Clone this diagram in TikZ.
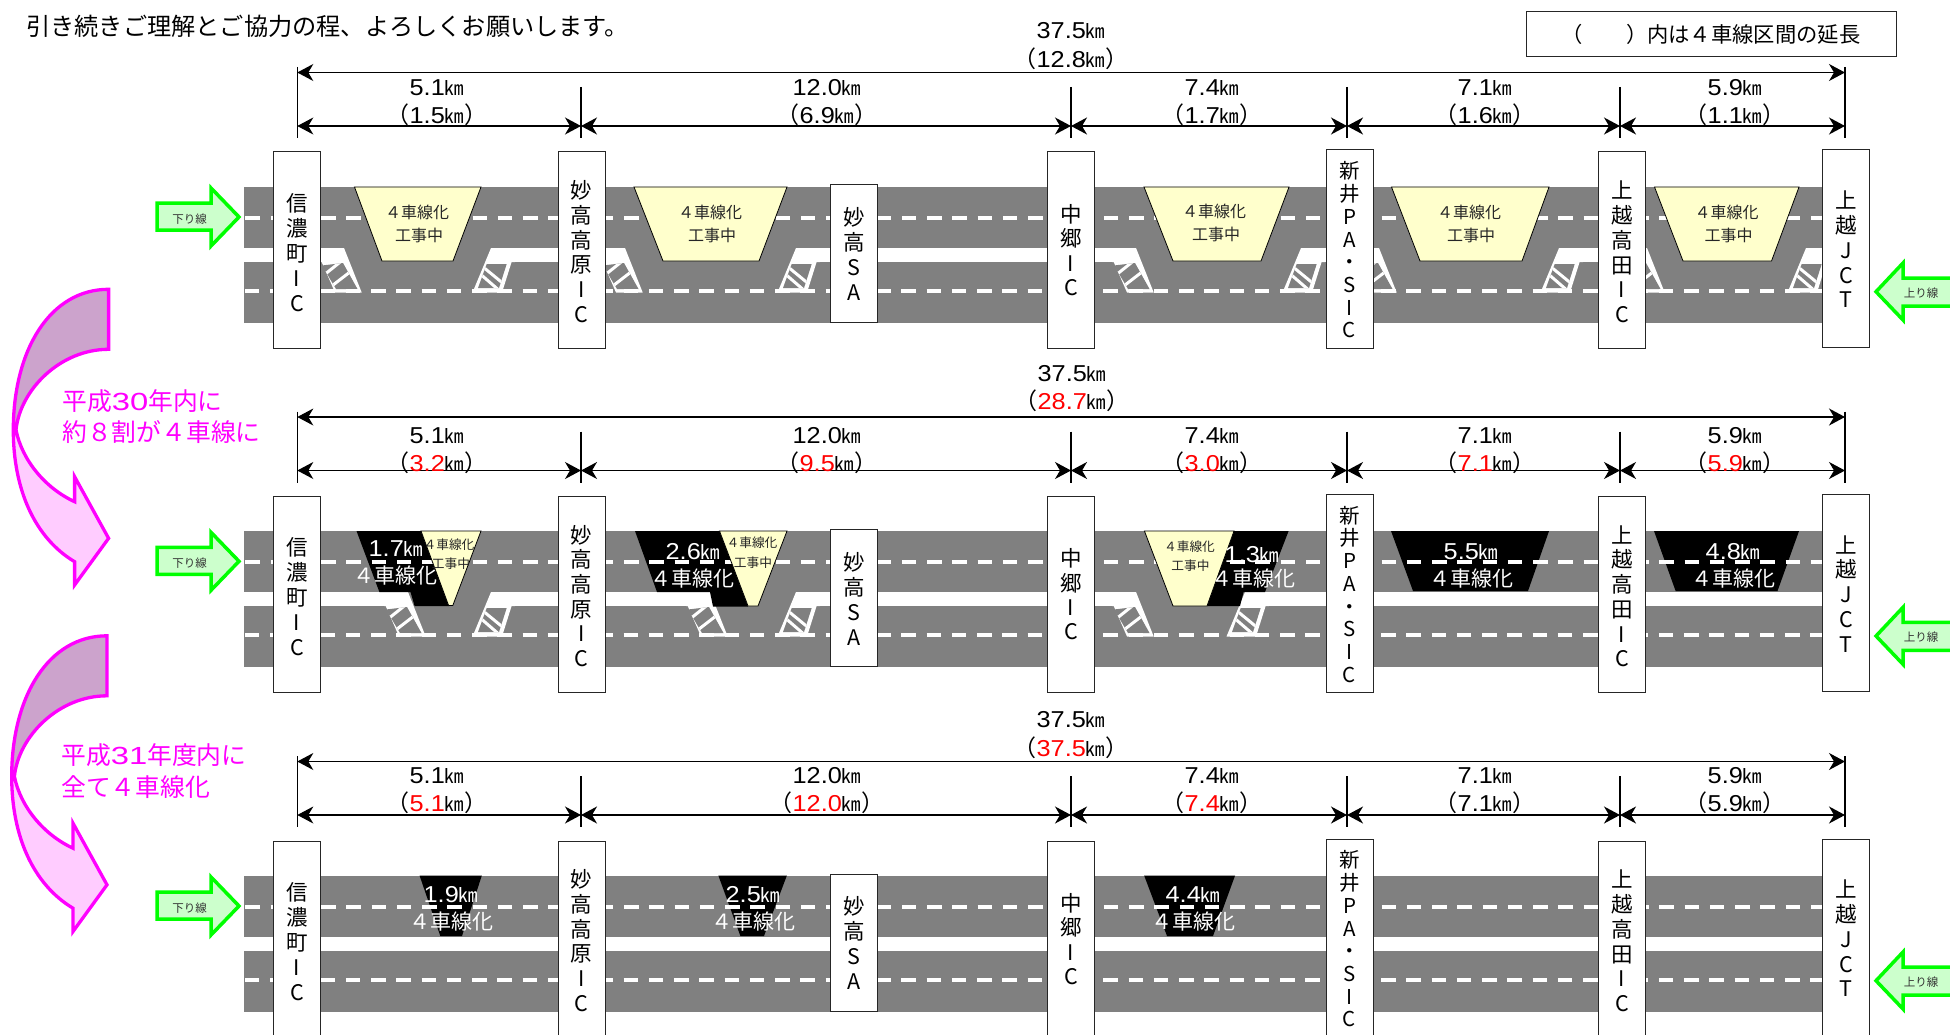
\documentclass[tikz,border=0pt]{standalone}
\usepackage{fontspec}
\setmainfont{Noto Sans CJK JP}
\newfontfamily\digf[FakeStretch=1.1]{Liberation Sans}
\usetikzlibrary{arrows.meta}
\definecolor{roadgray}{HTML}{808080}
\definecolor{trapyellow}{HTML}{FFFFCC}
\definecolor{dirfill}{HTML}{CCFFCC}
\definecolor{dirline}{HTML}{00FF00}
\definecolor{pinkline}{HTML}{FF00FF}
\definecolor{pinkdark}{HTML}{CCA3CC}
\definecolor{pinklight}{HTML}{FFCCFF}
\definecolor{smallink}{HTML}{333333}
\newcommand{\fsz}[1]{\fontsize{#1}{#1}\selectfont}
\newcommand{\kmu}{{\fsz{19.5}㎞}}
\newcommand{\kmv}[1]{{\digf #1}\kmu}
\newcommand{\kmr}[1]{\textcolor{red}{\digf #1}\kmu}
\tikzset{
  road/.style={fill=roadgray,draw=none},
  lanedash/.style={draw=white,line width=3.8pt,dash pattern=on 14.5pt off 10.75pt},
  stopbox/.style={draw=black!85,line width=1pt,fill=white,inner sep=0pt,minimum width=47pt},
  stack/.style={inner sep=0pt,align=center,font=\fontsize{21.5}{25}\selectfont},
  trapy/.style={fill=trapyellow,draw=black,line width=0.8pt,line join=miter},
  trapb/.style={fill=black,draw=none},
  dimtick/.style={draw=black,line width=1.1pt},
  dimarrow/.style={draw=black,line width=1.3pt,{Stealth[length=16pt,width=17pt,inset=5pt]}-{Stealth[length=16pt,width=17pt,inset=5pt]}},
  dimtext/.style={inner sep=0pt,font=\fsz{23}},
  dirarrow/.style={fill=dirfill,draw=dirline,line width=3.5pt,line join=miter},
  dirtext/.style={inner sep=0pt,text=smallink,font=\fsz{11.5}},
  ylab/.style={inner sep=0pt,text=black!85,font=\fsz{16}},
  ylabs/.style={inner sep=0pt,text=black!85,font=\fsz{12.7}},
  wlab/.style={inner sep=0pt,text=white,font=\fsz{21}},
  wkm/.style={inner sep=0pt,text=white,font=\fsz{23}},
  pinktext/.style={inner sep=0pt,anchor=west,text=pinkline,font=\fsz{24.8}},
  curvedline/.style={draw=pinkline,line width=3.3pt,line join=miter},
}
\newcommand{\roads}[1]{\begin{scope}[shift={(0,#1)}]
  \fill[road] (244,187) rectangle (1850,248);
  \fill[road] (244,262) rectangle (1850,323);
\end{scope}}
\newcommand{\lanes}[1]{\begin{scope}[shift={(0,#1)}]
  \draw[lanedash] (245.3,218) -- (1830,218);
  \draw[lanedash] (244.8,291) -- (1830,291);
\end{scope}}
\newcommand{\bypass}[3]{\fill[road] (#2,{#1+247}) rectangle (#3,{#1+263});}
\newcommand{\hatchL}[2]{\begin{scope}[shift={(#2,#1)}]
  \fill[white] (-24,248) -- (0,248) -- (17.7,292.5) -- (-9,292.5) -- (-22.3,262) -- (-24,262) -- cycle;
  \begin{scope}
    \clip (-22,265.5) -- (-1,263) -- (13.5,289) -- (-8,289) -- cycle;
    \fill[roadgray] (-25,260) rectangle (15,290);
    \draw[white,line width=3pt] (-25,279) -- (5,255);
    \draw[white,line width=3pt] (-20,292) -- (15,265);
  \end{scope}
\end{scope}}
\newcommand{\hatchR}[2]{\begin{scope}[shift={(#2,#1)}]
  \fill[white] (0,248) -- (-18.5,292.5) -- (11,292.5) -- (20.6,262) -- (24,262) -- (24,248) -- cycle;
  \begin{scope}
    \clip (-4.3,264) -- (15.7,264) -- (8,288) -- (-13,288) -- cycle;
    \fill[roadgray] (-15,260) rectangle (20,290);
    \draw[white,line width=3pt] (-14,262) -- (14,285);
    \draw[white,line width=3pt] (-20,266) -- (10,292);
  \end{scope}
\end{scope}}
\newcommand{\stops}[2]{\begin{scope}[shift={(0,#2)}]
  \node[stopbox,minimum height=196pt] (#1a) at (297,250) {};
  \node[stopbox,minimum height=196pt] (#1b) at (581.7,250) {};
  \node[stopbox,minimum height=137pt] (#1c) at (854,253.5) {};
  \node[stopbox,minimum height=196pt] (#1d) at (1071,250) {};
  \node[stopbox,minimum height=198pt] (#1e) at (1349.5,249) {};
  \node[stopbox,minimum height=196pt] (#1f) at (1622,250) {};
  \node[stopbox,minimum height=197pt] (#1g) at (1846,248.5) {};
  \node[stack] (#1at) at (297,252.7) {信\\濃\\町\\I\\C};
  \node[stack,font=\fontsize{21.5}{24.7}\selectfont] (#1bt) at (581.7,251.7) {妙\\高\\高\\原\\I\\C};
  \node[stack,font=\fontsize{21.5}{25}\selectfont] (#1ct) at (854,254.3) {妙\\高\\S\\A};
  \node[stack,font=\fontsize{21.5}{24.3}\selectfont] (#1dt) at (1071,250) {中\\郷\\I\\C};
  \node[stack,font=\fontsize{20.5}{22.7}\selectfont] (#1et) at (1349.5,250) {新\\井\\P\\A\\・\\S\\I\\C};
  \node[stack,font=\fontsize{21.5}{24.7}\selectfont] (#1ft) at (1622,252) {上\\越\\高\\田\\I\\C};
  \node[stack,font=\fontsize{21.5}{24.8}\selectfont] (#1gt) at (1846,249.5) {上\\越\\J\\C\\T};
\end{scope}}
\newcommand{\dirs}[2]{\begin{scope}[shift={(0,#2)}]
  \draw[dirarrow] (157,203) -- (211,203) -- (211,188) -- (239,217) -- (211,246) -- (211,230) -- (157,230) -- cycle;
  \node[dirtext] (#1down) at (189.5,219) {下り線};
  \draw[dirarrow] (1960,278) -- (1903,278) -- (1903,263) -- (1876,291.7) -- (1903,320) -- (1903,306) -- (1960,306);
  \node[dirtext] (#1up) at (1921,293) {上り線};
\end{scope}}
\newcommand{\dims}[2]{\begin{scope}[shift={(0,#2)}]
  \coordinate (#1s0) at (297.3,67);  \coordinate (#1e0) at (297.3,138);
  \coordinate (#1s1) at (581,87);    \coordinate (#1e1) at (581,138);
  \coordinate (#1s2) at (1071,87);   \coordinate (#1e2) at (1071,138);
  \coordinate (#1s3) at (1347,87);   \coordinate (#1e3) at (1347,138);
  \coordinate (#1s4) at (1620,87);   \coordinate (#1e4) at (1620,138);
  \coordinate (#1s5) at (1845,67);   \coordinate (#1e5) at (1845,138);
  \coordinate (#1t0) at (297.3,72.5); \coordinate (#1t5) at (1845,72.5);
  \coordinate (#1m0) at (297.3,126);  \coordinate (#1m1) at (581,126);
  \coordinate (#1m2) at (1071,126);   \coordinate (#1m3) at (1347,126);
  \coordinate (#1m4) at (1620,126);   \coordinate (#1m5) at (1845,126);
  \foreach \i in {0,...,5} {\draw[dimtick] (#1s\i) -- (#1e\i);}
  \draw[dimarrow] (#1t0) -- (#1t5);
  \draw[dimarrow] (#1m0) -- (#1m1);
  \draw[dimarrow] (#1m1) -- (#1m2);
  \draw[dimarrow] (#1m2) -- (#1m3);
  \draw[dimarrow] (#1m3) -- (#1m4);
  \draw[dimarrow] (#1m4) -- (#1m5);
\end{scope}}
\newcommand{\trapY}[6]{\draw[trapy] (#1,#5) -- (#2,#5) -- (#4,#6) -- (#3,#6) -- cycle;}
\newcommand{\trapB}[6]{\fill[trapb] (#1,#5) -- (#2,#5) -- (#4,#6) -- (#3,#6) -- cycle;}
\begin{document}
\begin{tikzpicture}[x=1pt,y=-1pt]
\clip (0,0) rectangle (1950,1035);
\fill[white] (0,0) rectangle (1950,1035);

% header
\node[inner sep=0pt,anchor=west,font=\fsz{24.2}] (head) at (26,26) {引き続きご理解とご協力の程、よろしくお願いします。};
\node[draw=black!85,line width=1pt,minimum width=370pt,minimum height=45pt,inner sep=0pt,font=\fsz{21.3}] (legend) at (1711,34.5) {（\hspace{43pt}）内は４車線区間の延長};

% ---------- row 1
\roads{0}
\bypass{0}{344}{491}
\bypass{0}{625}{796}
\bypass{0}{1136}{1301}
\bypass{0}{1379}{1559}
\bypass{0}{1647}{1806}
\hatchL{0}{344}\hatchR{0}{491}
\hatchL{0}{625}\hatchR{0}{796}
\hatchL{0}{1136}\hatchR{0}{1301}
\hatchL{0}{1379}\hatchR{0}{1559}
\hatchL{0}{1647}\hatchR{0}{1806}
\lanes{0}
\trapY{354.5}{481}{382}{453}{187}{261}
\trapY{634}{787}{663}{759}{187}{261}
\trapY{1144}{1289}{1173}{1261}{187}{261}
\trapY{1391.5}{1549}{1420}{1522}{187}{261}
\trapY{1654.5}{1799}{1683}{1771.5}{187}{261}
\node[ylab] (ra1) at (417,212) {４車線化};  \node[ylab] (ra2) at (419,235) {工事中};
\node[ylab] (rb1) at (710,212) {４車線化};  \node[ylab] (rb2) at (712,235) {工事中};
\node[ylab] (rc1) at (1214,211) {４車線化}; \node[ylab] (rc2) at (1216,234) {工事中};
\node[ylab] (rd1) at (1469,212) {４車線化}; \node[ylab] (rd2) at (1471,235) {工事中};
\node[ylab] (re1) at (1726.5,212) {４車線化}; \node[ylab] (re2) at (1728.5,235) {工事中};
\stops{ra}{0}
\dirs{ra}{0}
\dims{da}{0}
\node[dimtext] (at1) at (1071,31) {\kmv{37.5}};
\node[dimtext] (at2) at (1071,59) {（\kmv{12.8}）};
\node[dimtext] (al1) at (437,88) {\kmv{5.1}};   \node[dimtext] (al2) at (437,115) {（\kmv{1.5}）};
\node[dimtext] (bl1) at (827,88) {\kmv{12.0}};  \node[dimtext] (bl2) at (827,115) {（\kmv{6.9}）};
\node[dimtext] (cl1) at (1212,88) {\kmv{7.4}};  \node[dimtext] (cl2) at (1212,115) {（\kmv{1.7}）};
\node[dimtext] (dl1) at (1485,88) {\kmv{7.1}};  \node[dimtext] (dl2) at (1485,115) {（\kmv{1.6}）};
\node[dimtext] (el1) at (1735,88) {\kmv{5.9}};  \node[dimtext] (el2) at (1735,115) {（\kmv{1.1}）};

% ---------- row 2
\roads{344}
\bypass{344}{408}{491}
\bypass{344}{710}{796}
\bypass{344}{1136}{1245}
\hatchL{344}{408}\hatchR{344}{491}
\hatchL{344}{710}\hatchR{344}{796}
\hatchL{344}{1136}\hatchR{344}{1245}
\fill[trapb] (356.5,531) -- (421,531) -- (449,606) -- (414.6,606) -- (410.5,592) -- (379.4,592) -- cycle;
\fill[trapb] (635,531) -- (720,531) -- (748,606.5) -- (713,606.5) -- (710,592) -- (657,592) -- cycle;
\fill[trapb] (1234,531) -- (1288.6,531) -- (1265,592) -- (1243.6,592) -- (1240,606) -- (1207,606) -- cycle;
\trapB{1391}{1549}{1413}{1528}{531}{591}
\trapB{1654}{1799}{1675.6}{1777.5}{531}{591}
\lanes{344}
\draw[trapy] (421,531) -- (481,531) -- (452.8,605.5) -- (448.6,605.5) -- cycle;
\draw[trapy] (719.5,531) -- (787,531) -- (758,606) -- (748,606) -- cycle;
\draw[trapy] (1144.4,531) -- (1234,531) -- (1207,606) -- (1173,606) -- cycle;
\node[ylabs] (sa1) at (449,545) {４車線化};   \node[ylabs] (sa2) at (451,564) {工事中};
\node[ylabs] (sb1) at (752,543) {４車線化};   \node[ylabs] (sb2) at (753,563) {工事中};
\node[ylabs] (sc1) at (1189.5,547) {４車線化}; \node[ylabs] (sc2) at (1190.5,566) {工事中};
\node[wkm] (sa3) at (396,549) {\kmv{1.7}};  \node[wlab] (sa4) at (395,576) {４車線化};
\node[wkm] (sb3) at (693,552) {\kmv{2.6}};  \node[wlab] (sb4) at (692,579) {４車線化};
\node[wkm] (sc3) at (1252,555) {\kmv{1.3}}; \node[wlab] (sc4) at (1253.5,579) {４車線化};
\node[wkm] (sd3) at (1471,552) {\kmv{5.5}}; \node[wlab] (sd4) at (1471,579) {４車線化};
\node[wkm] (se3) at (1733,552) {\kmv{4.8}}; \node[wlab] (se4) at (1733,579) {４車線化};
\stops{rb}{344.3}
\dirs{rb}{344.3}
\dims{db}{344.5}
\node[dimtext] (bt1) at (1072,374) {\kmv{37.5}};
\node[dimtext] (bt2) at (1072,401) {（\kmr{28.7}）};
\node[dimtext] (am1) at (437,436) {\kmv{5.1}};   \node[dimtext] (am2) at (437,463) {（\kmr{3.2}）};
\node[dimtext] (bm1) at (827,436) {\kmv{12.0}};  \node[dimtext] (bm2) at (827,463) {（\kmr{9.5}）};
\node[dimtext] (cm1) at (1212,436) {\kmv{7.4}};  \node[dimtext] (cm2) at (1212,463) {（\kmr{3.0}）};
\node[dimtext] (dm1) at (1485,436) {\kmv{7.1}};  \node[dimtext] (dm2) at (1485,463) {（\kmr{7.1}）};
\node[dimtext] (em1) at (1735,436) {\kmv{5.9}};  \node[dimtext] (em2) at (1735,463) {（\kmr{5.9}）};

% ---------- row 3
\roads{689}
\trapB{419.6}{481.8}{440.3}{462}{875.7}{936}
\trapB{718.4}{786.8}{740.4}{764}{875.7}{936}
\trapB{1144.2}{1235}{1167}{1213}{875.7}{936}
\lanes{689}
\node[wkm] (ta3) at (451,895) {\kmv{1.9}};   \node[wlab] (ta4) at (451,922) {４車線化};
\node[wkm] (tb3) at (753,895) {\kmv{2.5}};   \node[wlab] (tb4) at (753,922) {４車線化};
\node[wkm] (tc3) at (1193,895) {\kmv{4.4}};  \node[wlab] (tc4) at (1193.5,922) {４車線化};
\stops{rc}{689}
\dirs{rc}{689}
\dims{dc}{689}
\node[dimtext] (ct1) at (1071,720) {\kmv{37.5}};
\node[dimtext] (ct2) at (1071,748) {（\kmr{37.5}）};
\node[dimtext] (an1) at (437,776) {\kmv{5.1}};   \node[dimtext] (an2) at (437,803) {（\kmr{5.1}）};
\node[dimtext] (bn1) at (827,776) {\kmv{12.0}};  \node[dimtext] (bn2) at (827,803) {（\kmr{12.0}）};
\node[dimtext] (cn1) at (1212,776) {\kmv{7.4}};  \node[dimtext] (cn2) at (1212,803) {（\kmr{7.4}）};
\node[dimtext] (dn1) at (1485,776) {\kmv{7.1}};  \node[dimtext] (dn2) at (1485,803) {（\kmv{7.1}）};
\node[dimtext] (en1) at (1735,776) {\kmv{5.9}};  \node[dimtext] (en2) at (1735,803) {（\kmv{5.9}）};

% ---------- curved arrows
\foreach \sx/\sy in {0/0,-1.6/346.5} {
\begin{scope}[shift={(\sx,\sy)}]
  \path[fill=pinklight] (13.3,430) .. controls (13.3,490) and (35,538) .. (74.6,561.7)
     -- (74.6,585) -- (108.6,538.3) -- (74.6,476.7) -- (74.6,501.7)
     .. controls (45,488) and (22,460) .. (16,430) -- cycle;
  \path[fill=pinkdark] (108.6,289.3) .. controls (50,289.3) and (13.3,350) .. (13.3,430)
     -- (16,430) .. controls (20,390) and (60,349.3) .. (108.6,349.3) -- cycle;
  \draw[curvedline] (108.6,349.3) -- (108.6,289.3) .. controls (50,289.3) and (13.3,350) .. (13.3,430)
     .. controls (13.3,490) and (35,538) .. (74.6,561.7)
     -- (74.6,585) -- (108.6,538.3) -- (74.6,476.7) -- (74.6,501.7)
     .. controls (45,488) and (22,460) .. (16,430)
     .. controls (20,390) and (60,349.3) .. (108.6,349.3) -- cycle;
\end{scope}}
\node[pinktext] (p1) at (62,401) {平成\scalebox{1.2}[1]{\digf 30}年内に};
\node[pinktext] (p2) at (62,432) {約８割が４車線に};
\node[pinktext] (p3) at (61,755) {平成\scalebox{1.2}[1]{\digf 31}年度内に};
\node[pinktext] (p4) at (61,787) {全て４車線化};
\end{tikzpicture}
\end{document}
